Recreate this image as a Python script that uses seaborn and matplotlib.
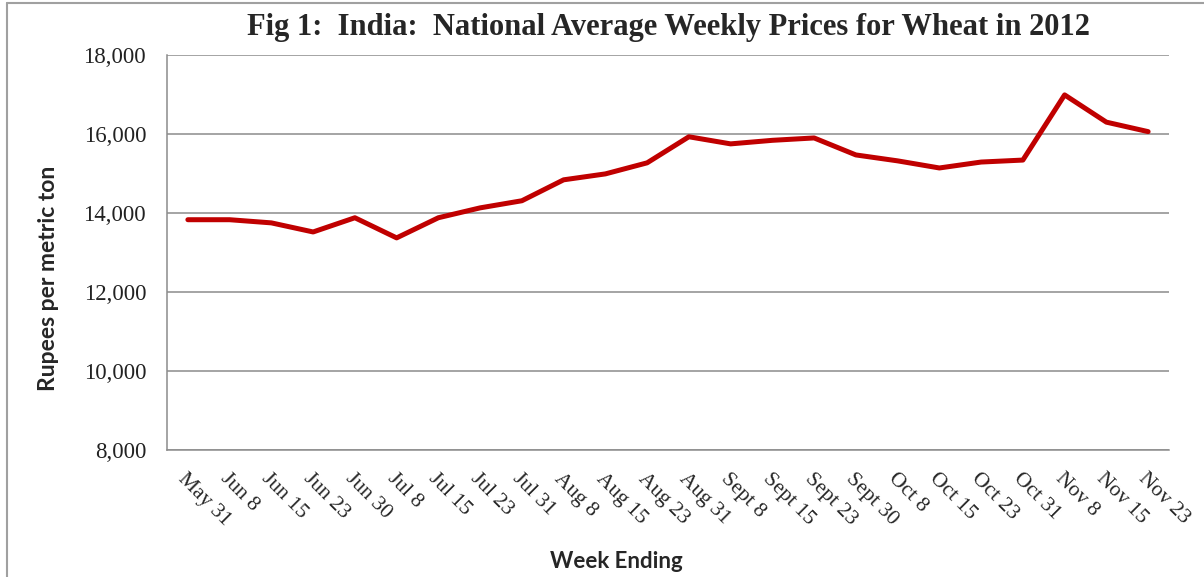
import pandas as pd
import seaborn as sns
import matplotlib.pyplot as plt
from matplotlib.lines import Line2D
from matplotlib.ticker import FuncFormatter

weeks = ["May 31", "Jun 8", "Jun 15", "Jun 23", "Jun 30", "Jul 8", "Jul 15",
         "Jul 23", "Jul 31", "Aug 8", "Aug 15", "Aug 23", "Aug 31", "Sept 8",
         "Sept 15", "Sept 23", "Sept 30", "Oct 8", "Oct 15", "Oct 23",
         "Oct 31", "Nov 8", "Nov 15", "Nov 23"]
prices = [13830, 13830, 13750, 13520, 13880, 13370, 13880, 14130, 14310,
          14840, 14990, 15270, 15930, 15750, 15840, 15900, 15470, 15320,
          15140, 15290, 15340, 16990, 16300, 16060]
yticks = [8000, 10000, 12000, 14000, 16000, 18000]

data = pd.DataFrame({"week": weeks, "price": prices})

sns.set_theme(style="white")
plt.rcParams["font.family"] = ["Liberation Serif", "DejaVu Serif"]

fig = plt.figure(figsize=(12.04, 5.77), dpi=100)
ax = fig.add_axes([167 / 1204, 1 - 450 / 577, (1169 - 167) / 1204, (450 - 55) / 577])

sns.lineplot(data=data, x="week", y="price", sort=False,
             color="#C00000", linewidth=3.6, ax=ax)

ax.set_xlim(-0.5, len(weeks) - 0.5)
ax.set_ylim(8000, 18000)
ax.set_yticks(yticks)
ax.yaxis.set_major_formatter(FuncFormatter(lambda v, p: f"{int(v):,}"))
ax.yaxis.grid(True, color="#8c8c8c", linewidth=1.1)
ax.tick_params(axis="y", length=0, pad=15, labelsize=16.5, labelcolor="#222222")
ax.tick_params(axis="x", length=0, pad=14, labelsize=15.5)
ax.set_xticks(range(len(weeks)))
ax.set_xticklabels(weeks, rotation=-45, ha="left", va="top",
                   rotation_mode="anchor")

for s in ["top", "right"]:
    ax.spines[s].set_visible(False)
for s in ["left", "bottom"]:
    ax.spines[s].set_color("#8c8c8c")
    ax.spines[s].set_linewidth(1.1)

ax.set_ylabel("Rupees per metric ton", family=["Lato", "DejaVu Sans"],
              fontweight="bold", fontsize=16.5)
ax.set_xlabel("Week Ending", family=["Lato", "DejaVu Sans"],
              fontweight="bold", fontsize=16)
ax.yaxis.set_label_coords(-0.108, 0.435)
ax.xaxis.set_label_coords(0.448, -0.255)

fig.text(668 / 1204, 1 - 28 / 577,
         "Fig 1:  India:  National Average Weekly Prices for Wheat in 2012",
         ha="center", va="center", fontsize=22, fontweight="bold")

# outer chart border (top and left edges visible in the reference)
fig.add_artist(Line2D([7 / 1204, 1.0], [1 - 3 / 577, 1 - 3 / 577],
                      transform=fig.transFigure, color="#a0a0a0", linewidth=1.5))
fig.add_artist(Line2D([7 / 1204, 7 / 1204], [0.0, 1 - 3 / 577],
                      transform=fig.transFigure, color="#a0a0a0", linewidth=1.5))

fig.savefig("out.png", dpi=100)
